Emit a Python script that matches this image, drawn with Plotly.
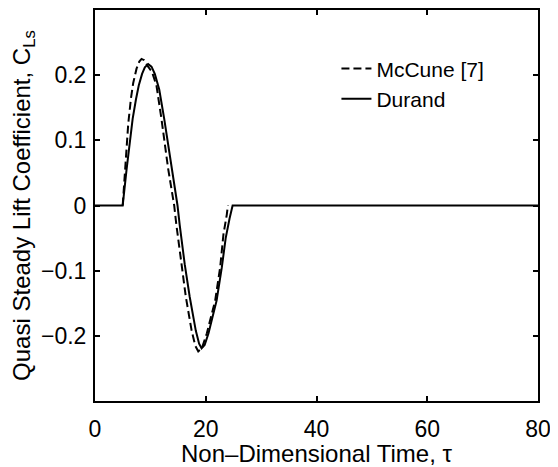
import plotly.graph_objects as go

# Durand (solid)
durand_tau = [0, 5.0, 5.7, 6.4, 6.8, 7.4, 7.9, 8.5, 9.0, 9.6, 10.2, 10.8, 11.6, 12.5, 13.2,
              13.95, 14.9, 15.3, 16.2, 17.1, 18.2, 18.8, 19.25, 19.8, 20.5, 21.2, 21.96,
              22.9, 23.6, 24.3, 24.85, 80]
durand_cl = [0, 0, 0.055, 0.105, 0.133, 0.163, 0.184, 0.202, 0.212, 0.217, 0.213, 0.202,
             0.178, 0.133, 0.095, 0.052, 0.0, -0.030, -0.090, -0.140, -0.192, -0.212,
             -0.219, -0.214, -0.196, -0.172, -0.146, -0.095, -0.050, -0.020, 0, 0]

# McCune [7] (dashed)
mccune_tau = [5.0, 5.4, 6.0, 6.5, 6.9, 7.5, 8.0, 8.4, 8.9, 9.5, 10.3, 11.1, 12.0, 13.2,
              14.3, 14.7, 15.6, 16.4, 17.45, 18.1, 18.65, 19.3, 20.2, 21.7, 22.6, 23.2,
              23.8, 24.0]
mccune_cl = [0, 0.045, 0.125, 0.165, 0.188, 0.210, 0.221, 0.225, 0.223, 0.214, 0.205,
             0.184, 0.133, 0.057, 0.0, -0.030, -0.090, -0.140, -0.192, -0.215, -0.224,
             -0.219, -0.196, -0.146, -0.095, -0.044, -0.014, 0.0]

x_ticks = [0, 20, 40, 60, 80]
y_ticks = [-0.2, -0.1, 0, 0.1, 0.2]
y_tick_text = ["\u22120.2", "\u22120.1", "0", "0.1", "0.2"]

FONT = "Liberation Sans, Arial, Helvetica, sans-serif"

fig = go.Figure()
fig.add_trace(go.Scatter(x=mccune_tau, y=mccune_cl, mode="lines", name="McCune [7]",
                         line=dict(color="black", width=2, dash="8px,4px")))
fig.add_trace(go.Scatter(x=durand_tau, y=durand_cl, mode="lines", name="Durand",
                         line=dict(color="black", width=2)))

axis_common = dict(showline=True, linecolor="black", linewidth=2, mirror="ticks",
                   ticks="inside", ticklen=5, tickwidth=1.5, tickcolor="black",
                   showgrid=False, zeroline=False, automargin=True,
                   tickfont=dict(family=FONT, size=23, color="black"))

fig.update_xaxes(range=[0, 80], tickvals=x_ticks, ticklabelstandoff=6,
                 title=dict(text="Non\u2013Dimensional Time, \u03c4",
                            font=dict(family=FONT, size=24, color="black"), standoff=2),
                 **axis_common)
fig.update_yaxes(range=[-0.3, 0.3], tickvals=y_ticks, ticktext=y_tick_text,
                 ticklabelstandoff=2,
                 title=dict(text="Quasi Steady Lift Coefficient, C<sub>Ls</sub>",
                            font=dict(family=FONT, size=24, color="black"), standoff=8),
                 **axis_common)

# page body adds an 8px margin, so the figure is 8px smaller than the window
fig.update_layout(
    width=550, height=459,
    margin=dict(l=87, r=20, t=0, b=66, pad=0),
    paper_bgcolor="white", plot_bgcolor="white",
    font=dict(family=FONT, size=23, color="black"),
    showlegend=True,
    legend=dict(x=0.545, y=0.902, xanchor="left", yanchor="top",
                bgcolor="rgba(0,0,0,0)", borderwidth=0,
                font=dict(family=FONT, size=21, color="black"),
                itemwidth=30, tracegroupgap=0),
)

fig.write_html("out.html")
